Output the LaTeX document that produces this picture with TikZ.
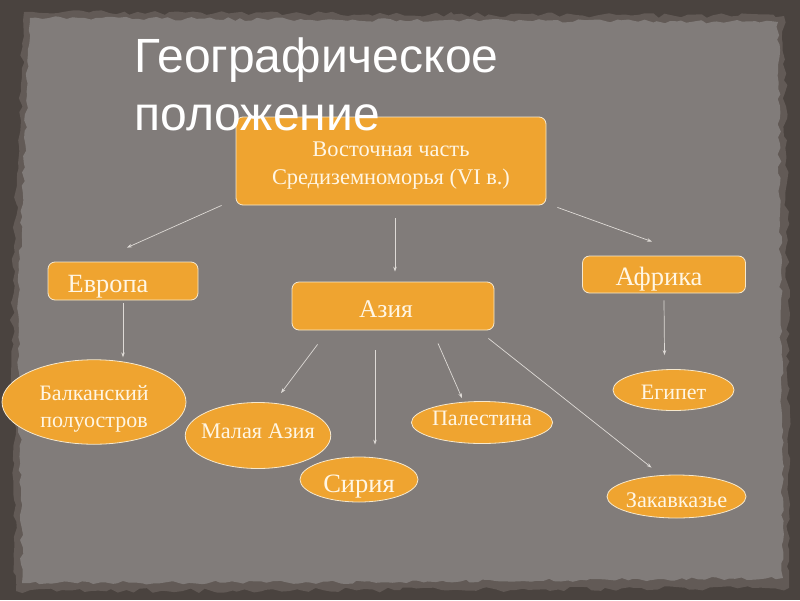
\documentclass[tikz,border=0pt]{standalone}
\usepackage{fontspec}
\setmainfont{Liberation Serif}
\newfontfamily\titlefont{Liberation Sans}
\usetikzlibrary{shapes.geometric,arrows.meta,decorations.pathmorphing}
\definecolor{frame}{RGB}{74,67,63}
\definecolor{midband}{RGB}{98,90,86}
\definecolor{paper}{RGB}{129,124,122}
\definecolor{boxfill}{RGB}{239,164,48}
\definecolor{boxline}{RGB}{246,232,205}
\definecolor{boxtext}{RGB}{255,246,228}
\definecolor{arrowcol}{RGB}{222,218,214}
\tikzset{
  x=1pt,y=-1pt,
  rbox/.style={draw=boxline,line width=0.8pt,fill=boxfill,rounded corners=7pt,inner sep=0pt,text=boxtext,text depth=0pt},
  ebox/.style={ellipse,draw=boxline,line width=0.8pt,fill=boxfill,inner sep=0pt,text=boxtext,align=center},
  conn/.style={draw=arrowcol,line width=0.7pt,-{Stealth[length=5pt,width=3.5pt]}}
}
\begin{document}
\begin{tikzpicture}
\useasboundingbox (0,0) rectangle (800,600);
\fill[frame] (0,0) rectangle (800,600);
\pgfmathsetseed{11}
\fill[midband,decorate,decoration={random steps,segment length=7pt,amplitude=2.5pt}]
  (24,12) -- (400,14) -- (784,16) -- (788,300) -- (789,588) -- (400,590) -- (16,591) -- (12,300) -- cycle;
\pgfmathsetseed{7}
\fill[paper,decorate,decoration={random steps,segment length=6pt,amplitude=1.8pt}]
  (30,18) -- (400,20) -- (778,22) -- (781,300) -- (783,578) -- (400,582) -- (22,583) -- (18,300) -- cycle;
\node[rbox,minimum width=310pt,minimum height=88pt,align=center,font=\fontsize{22.4}{28}\selectfont] (top) at (391,161) {\rule{0pt}{19pt}Восточная часть\\Средиземноморья (VI в.)};
\node[rbox,minimum width=150pt,minimum height=38pt,text height=22pt,font=\fontsize{26.3}{30}\selectfont] (eur) at (123,281) {\hspace*{-30pt}Европа};
\node[rbox,minimum width=202pt,minimum height=48pt,text height=22pt,font=\fontsize{25.5}{30}\selectfont] (asia) at (393,306) {\hspace*{-14pt}Азия};
\node[rbox,minimum width=163pt,minimum height=37pt,text height=21pt,font=\fontsize{26.5}{30}\selectfont] (afr) at (664,274.5) {\hspace*{-10pt}Африка};
\node[ebox,minimum width=184pt,minimum height=82pt,font=\fontsize{22}{27}\selectfont] (balk) at (94,402) {\rule{0pt}{28pt}Балканский\\полуостров};
\node[ebox,minimum width=144pt,minimum height=66pt,inner xsep=-5.5pt,text height=5pt,text depth=0pt,font=\fontsize{22.3}{26}\selectfont] (mal) at (258,435.5) {Малая Азия};
\node[ebox,minimum width=118pt,minimum height=45pt,text height=25pt,text depth=0pt,font=\fontsize{26.5}{30}\selectfont] (sir) at (359,479.5) {Сирия};
\node[ebox,minimum width=140pt,minimum height=42pt,text height=5pt,text depth=0pt,font=\fontsize{22}{26}\selectfont] (pal) at (482,422.5) {Палестина};
\node[ebox,minimum width=121pt,minimum height=41pt,text height=18pt,text depth=0pt,font=\fontsize{22}{26}\selectfont] (egy) at (673.5,390) {Египет};
\node[ebox,minimum width=139pt,minimum height=43pt,inner xsep=-1.5pt,text height=22pt,text depth=0pt,font=\fontsize{22.3}{26}\selectfont] (zak) at (676.5,496.5) {Закавказье};
\node[anchor=base west,text=white,font=\titlefont\fontsize{48}{58}\selectfont] (title) at (131,72) {Географическое};
\node[anchor=base west,text=white,font=\titlefont\fontsize{48}{58}\selectfont] (title2) at (131,130) {положение};
\draw[conn] ([xshift=-14pt]top.south west) -- ([xshift=4pt,yshift=14pt]eur.north);
\draw[conn] ([xshift=4pt,yshift=-13pt]top.south) -- ([xshift=2pt,yshift=10pt]asia.north);
\draw[conn] ([xshift=11pt,yshift=-2pt]top.south east) -- ([xshift=-12pt,yshift=14pt]afr.north);
\draw[conn] ([yshift=-3pt]eur.south) -- ([xshift=29pt,yshift=2pt]balk.north);
\draw[conn] ([xshift=26pt,yshift=-14pt]asia.south west) -- ([xshift=23pt,yshift=9pt]mal.north);
\draw[conn] ([xshift=-18pt,yshift=-20pt]asia.south) -- ([xshift=16pt,yshift=12pt]sir.north);
\draw[conn] ([xshift=45pt,yshift=-13pt]asia.south) -- ([xshift=-20pt,yshift=3pt]pal.north);
\draw[conn] ([xshift=-6pt,yshift=-8pt]asia.south east) -- ([xshift=-25pt,yshift=7pt]zak.north);
\draw[conn] ([yshift=-7pt]afr.south) -- ([xshift=-9pt,yshift=14pt]egy.north);
\end{tikzpicture}
\end{document}
